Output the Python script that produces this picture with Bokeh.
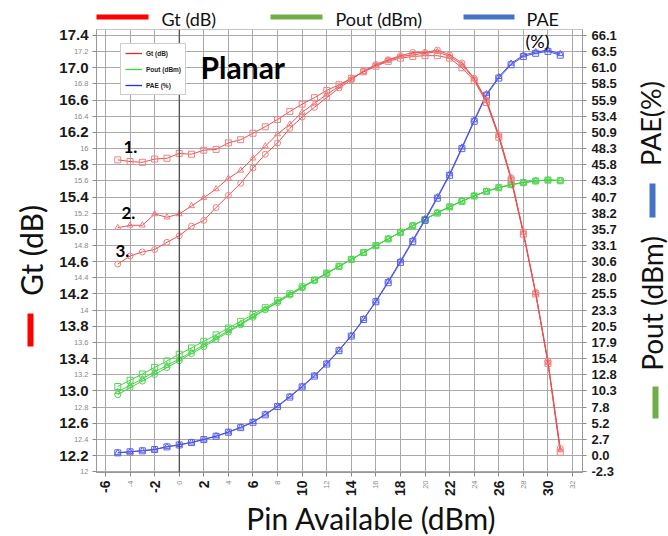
import math
from bokeh.plotting import figure
from bokeh.models import (Range1d, LinearAxis, FixedTicker, Span, Label, Legend, LegendItem,
                          CustomJSTickFormatter, NumeralTickFormatter, GridBox)
from bokeh.core.properties import value
from bokeh.embed import file_html
from bokeh.resources import INLINE

# ---------------- data ----------------
pin = [-5, -4, -3, -2, -1, 0, 1, 2, 3, 4, 5, 6, 7, 8, 9, 10, 11, 12, 13, 14, 15, 16, 17, 18,
       19, 20, 21, 22, 23, 24, 25, 26, 27, 28, 29, 30, 31]

gt_1 = [15.86, 15.84, 15.83, 15.87, 15.88, 15.94, 15.93, 15.98, 15.99, 16.07, 16.11, 16.19, 16.27,
        16.36, 16.46, 16.55, 16.63, 16.72, 16.79, 16.87, 16.95, 17.02, 17.08, 17.12, 17.14, 17.15,
        17.15, 17.12, 17.00, 16.84, 16.57, 16.14, 15.61, 14.94, 14.20, 13.34, 12.24]
gt_2 = [15.02, 15.05, 15.05, 15.19, 15.15, 15.19, 15.29, 15.39, 15.50, 15.63, 15.73, 15.88, 16.03,
        16.18, 16.30, 16.45, 16.56, 16.67, 16.77, 16.87, 16.95, 17.03, 17.09, 17.14, 17.16, 17.18,
        17.20, 17.14, 17.04, 16.86, 16.59, 16.16, 15.63, 14.96, 14.21, 13.35, 12.27]
gt_3 = [14.57, 14.67, 14.72, 14.75, 14.84, 14.92, 15.04, 15.11, 15.27, 15.42, 15.57, 15.76, 15.93,
        16.07, 16.25, 16.39, 16.51, 16.63, 16.75, 16.85, 16.96, 17.04, 17.10, 17.15, 17.19, 17.19,
        17.22, 17.16, 17.06, 16.87, 16.60, 16.17, 15.64, 14.97, 14.22, 13.37, 12.29]

pout_1 = [10.86, 11.84, 12.83, 13.87, 14.88, 15.94, 16.93, 17.98, 18.99, 20.07, 21.11, 22.19, 23.27,
          24.36, 25.46, 26.55, 27.63, 28.72, 29.79, 30.87, 31.95, 33.02, 34.08, 35.12, 36.14, 37.15,
          38.15, 39.12, 40.00, 40.84, 41.57, 42.14, 42.61, 42.94, 43.20, 43.34, 43.24]
pout_2 = [10.02, 11.05, 12.05, 13.19, 14.15, 15.19, 16.29, 17.39, 18.50, 19.63, 20.73, 21.88, 23.03,
          24.18, 25.30, 26.45, 27.56, 28.67, 29.77, 30.87, 31.95, 33.03, 34.09, 35.14, 36.16, 37.18,
          38.20, 39.14, 40.04, 40.86, 41.59, 42.16, 42.63, 42.96, 43.21, 43.35, 43.27]
pout_3 = [9.57, 10.67, 11.72, 12.75, 13.84, 14.92, 16.04, 17.11, 18.27, 19.42, 20.57, 21.76, 22.93,
          24.07, 25.25, 26.39, 27.51, 28.63, 29.75, 30.85, 31.96, 33.04, 34.10, 35.15, 36.19, 37.19,
          38.22, 39.16, 40.06, 40.87, 41.60, 42.17, 42.64, 42.97, 43.22, 43.37, 43.29]

pae_1 = [0.42, 0.58, 0.74, 0.94, 1.36, 1.67, 2.04, 2.51, 3.03, 3.66, 4.39, 5.23, 6.4, 7.7, 9.2,
         10.8, 12.5, 14.4, 16.5, 18.8, 21.4, 24.2, 27.2, 30.4, 33.7, 37.0, 40.5, 44.1, 48.3, 52.6,
         56.7, 59.4, 61.5, 62.8, 63.3, 63.6, 63.0]
pae_2 = [0.45, 0.60, 0.78, 0.97, 1.40, 1.70, 2.08, 2.55, 3.08, 3.70, 4.45, 5.30, 6.5, 7.8, 9.3,
         10.9, 12.6, 14.5, 16.6, 18.9, 21.5, 24.3, 27.4, 30.6, 33.9, 37.2, 40.7, 44.3, 48.5, 52.8,
         56.9, 59.6, 61.7, 63.0, 63.5, 63.8, 63.2]

x_major_ticks = [-6, -2, 2, 6, 10, 14, 18, 22, 26, 30]
x_minor_ticks = [-4, 0, 4, 8, 12, 16, 20, 24, 28, 32]
x_minor_labels = ["-4", "0", "4", "8", "12", "16", "20", "24", "28", "32"]

gt_major_ticks = [12.2, 12.6, 13.0, 13.4, 13.8, 14.2, 14.6, 15.0, 15.4, 15.8, 16.2, 16.6, 17.0, 17.4]
gt_minor_ticks = [12.0, 12.4, 12.8, 13.2, 13.6, 14.0, 14.4, 14.8, 15.2, 15.6, 16.0, 16.4, 16.8, 17.2]
gt_minor_labels = ["12", "12.4", "12.8", "13.2", "13.6", "14", "14.4", "14.8", "15.2", "15.6",
                   "16", "16.4", "16.8", "17.2"]

right_labels = ["-2.3", "0.0", "2.7", "5.2", "7.8", "10.3", "12.8", "15.4", "17.9", "20.5", "23.3",
                "25.5", "28.0", "30.6", "33.1", "35.7", "38.2", "40.7", "43.3", "45.8", "48.3",
                "50.9", "53.4", "55.9", "58.5", "61.0", "63.5", "66.1"]

# ---------------- geometry ----------------
W, H = 668, 536
FL, FR, FT, FB = 96, 582, 29, 472
xr0, xr1 = -6.73, 32.81
yr0, yr1 = 11.99, 17.474
K = 66.1 / 5.2          # right-axis units per dB
PXX = (FR - FL) / (xr1 - xr0)
PXY = (FB - FT) / (yr1 - yr0)
TICKFONT = "Liberation Sans"

# ---------------- chart ----------------
p = figure(width=W, height=H, output_backend="svg", toolbar_location=None,
           x_range=Range1d(xr0, xr1), y_range=Range1d(yr0, yr1),
           min_border_left=FL, min_border_right=W - FR, min_border_top=FT, min_border_bottom=H - FB)
p.frame_align = False
p.extra_y_ranges = {"r": Range1d((yr0 - 12.2) * K, (yr1 - 12.2) * K)}
p.background_fill_color = "white"
p.border_fill_color = "white"
p.outline_line_color = "#c4c4c4"

GRID = "#a9a9a9"

xt = FixedTicker(ticks=x_major_ticks, minor_ticks=x_minor_ticks)
p.xaxis.ticker = xt
p.xgrid.ticker = xt
p.xaxis.formatter = NumeralTickFormatter(format="0")
p.xaxis.major_label_orientation = math.pi / 2
p.xaxis.major_label_text_font = TICKFONT
p.xaxis.major_label_text_font_style = "bold"
p.xaxis.major_label_text_font_size = "14px"
p.xaxis.major_label_text_color = "#1a1a1a"
p.xaxis.major_tick_out = 4
p.xaxis.major_tick_in = 0
p.xaxis.minor_tick_out = 4
p.xaxis.minor_tick_in = 0
p.xaxis.major_label_standoff = 4
p.xaxis.axis_line_color = "#999999"
p.xaxis.major_tick_line_color = "#888888"
p.xaxis.minor_tick_line_color = "#888888"
p.xgrid.grid_line_color = GRID
p.xgrid.minor_grid_line_color = GRID

yt = FixedTicker(ticks=gt_major_ticks, minor_ticks=gt_minor_ticks)
p.yaxis.ticker = yt
p.ygrid.ticker = yt
p.yaxis.formatter = NumeralTickFormatter(format="0.0")
p.yaxis.major_label_text_font = TICKFONT
p.yaxis.major_label_text_font_style = "bold"
p.yaxis.major_label_text_font_size = "15px"
p.yaxis.major_label_text_color = "#1a1a1a"
p.yaxis.major_tick_out = 4
p.yaxis.major_tick_in = 0
p.yaxis.minor_tick_out = 4
p.yaxis.minor_tick_in = 0
p.yaxis.major_label_standoff = 4
p.yaxis.axis_line_color = "#999999"
p.yaxis.major_tick_line_color = "#888888"
p.yaxis.minor_tick_line_color = "#888888"
p.ygrid.grid_line_color = GRID
p.ygrid.minor_grid_line_color = GRID

right_ticks = [k * 66.1 / 26 for k in range(-1, 27)]
raxis = LinearAxis(y_range_name="r", ticker=FixedTicker(ticks=right_ticks),
                   formatter=CustomJSTickFormatter(args=dict(labels=right_labels, step=66.1 / 26),
                                                   code="return labels[Math.round(tick/step) + 1];"))
raxis.major_label_text_font = TICKFONT
raxis.major_label_text_font_style = "bold"
raxis.major_label_text_font_size = "13px"
raxis.major_label_text_color = "#1a1a1a"
raxis.major_tick_out = 4
raxis.major_tick_in = 0
raxis.minor_tick_line_color = None
raxis.major_label_standoff = 5
raxis.axis_line_color = "#999999"
raxis.major_tick_line_color = "#888888"
p.add_layout(raxis, "right")

p.add_layout(Span(location=0, dimension="height", line_color="#333333", line_width=1))

GREEN_L, GREEN_M = "#45cf45", "#50d850"
BLUE_L, BLUE_M = "#4850e0", "#5a62ea"
RED_L, RED_M = "#ea5050", "#f08080"
MS = 6

for ys, mk in ((pout_1, "square"), (pout_2, "triangle"), (pout_3, "circle")):
    p.line(pin, ys, y_range_name="r", line_color=GREEN_L, line_width=1)
    p.scatter(pin, ys, y_range_name="r", marker=mk, size=MS, fill_color=None, line_color=GREEN_M)

for ys, mk in ((pae_1, "square"), (pae_2, "triangle")):
    p.line(pin, ys, y_range_name="r", line_color=BLUE_L, line_width=1)
    p.scatter(pin, ys, y_range_name="r", marker=mk, size=MS, fill_color=None, line_color=BLUE_M)

for ys, mk in ((gt_1, "square"), (gt_2, "triangle"), (gt_3, "circle")):
    p.line(pin, ys, line_color=RED_L, line_width=1)
    p.scatter(pin, ys, marker=mk, size=MS, fill_color=None, line_color=RED_M)

# inner legend (swatch renderers drawn outside the visible range)
sw_r = p.line([-100, -99], [0, 0], line_color="#e02828", line_width=1.3)
sw_g = p.line([-100, -99], [0, 0], line_color="#33dd33", line_width=1.3)
sw_b = p.line([-100, -99], [0, 0], line_color="#2a2aee", line_width=1.3)
leg = Legend(items=[LegendItem(label="Gt (dB)", renderers=[sw_r]),
                    LegendItem(label="Pout (dBm)", renderers=[sw_g]),
                    LegendItem(label="PAE (%)", renderers=[sw_b])],
             location=(24, 377), orientation="vertical",
             label_text_font=TICKFONT, label_text_font_style="bold", label_text_font_size="6.5px",
             label_text_color="#222222", glyph_width=17, glyph_height=10, label_height=10,
             spacing=6, padding=4, margin=0, label_standoff=4,
             border_line_color="#9a9a9a", border_line_width=1, background_fill_alpha=1)
p.add_layout(leg, "center")


def L(px, py, text, size, style="bold", align="left"):
    p.add_layout(Label(x=px - FL, y=FB - py, x_units="screen", y_units="screen", text=text,
                       text_font="Lato", text_font_size=size, text_font_style=style,
                       text_color="#000000", text_align=align, text_baseline="middle"))


L(537, 40, "(%)", "18px", style="normal", align="center")
L(200, 66, "Planar", "30px")
L(123, 146, "1.", "17px")
L(121, 212, "2.", "17px")
L(115, 250, "3.", "17px")

# ---------------- transparent overlay canvas for texts outside the frame ----------------
bg = figure(width=W, height=H, output_backend="svg", toolbar_location=None,
            x_range=Range1d(0, W), y_range=Range1d(0, H), x_axis_type=None, y_axis_type=None,
            min_border=0, outline_line_color=None)
bg.frame_align = False
bg.grid.visible = False
bg.background_fill_alpha = 0
bg.border_fill_alpha = 0


def T(px, py, text, size, font="Lato", style="normal", color="#111111", align="left",
      baseline="middle", angle=0.0):
    bg.text(x=[px], y=[H - py], text=[text], text_font=value(font), text_font_size=value(size),
            text_font_style=style, text_color=color, text_align=align, text_baseline=baseline,
            angle=angle)


def BAR(x0, x1, y0, y1, color):
    bg.quad(left=[x0], right=[x1], top=[H - y0], bottom=[H - y1], fill_color=color, line_color=None)


for v, t in zip(gt_minor_ticks, gt_minor_labels):
    T(88, FT + (yr1 - v) * PXY, t, "7.5px", font=TICKFONT, color="#8a8a8a", align="right")
for v, t in zip(x_minor_ticks, x_minor_labels):
    T(FL + (v - xr0) * PXX, 480, t, "7.5px", font=TICKFONT, color="#8a8a8a",
      align="right", angle=math.pi / 2)

T(371, 517, "Pin Available (dBm)", "30px", align="center")
T(30, 250, "Gt (dB)", "30px", align="center", angle=math.pi / 2)
BAR(27, 33, 313, 346, "#ff0000")
T(650, 123, "PAE(%)", "27px", align="center", angle=math.pi / 2)
BAR(649, 655, 183, 217, "#4472c4")
T(651, 303, "Pout (dBm)", "28px", align="center", angle=math.pi / 2)
BAR(652, 658, 386, 418, "#70ad47")

BAR(96, 148, 14, 19, "#ff0000")
T(161, 18, "Gt (dB)", "18px")
BAR(270, 322, 14, 19, "#70ad47")
T(335, 18, "Pout (dBm)", "18px")
BAR(463, 514, 14, 19, "#4472c4")
T(526, 18, "PAE", "18px")

layout = GridBox(children=[(p, 0, 0), (bg, 0, 0)])
open("out.html", "w").write(file_html(layout, INLINE))
